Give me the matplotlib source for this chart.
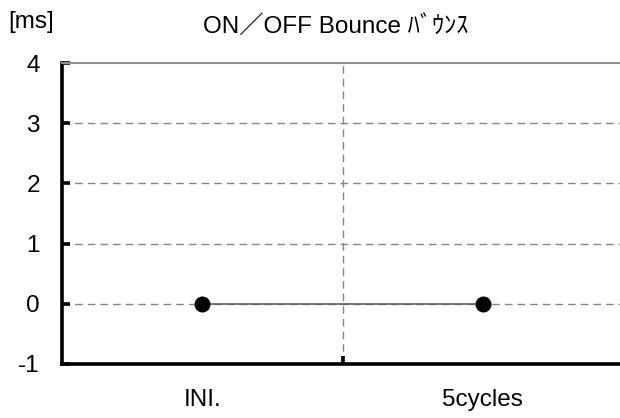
import numpy as np
import matplotlib.pyplot as plt
from matplotlib.ticker import FixedLocator

plt.rcParams['font.family'] = ['Liberation Sans', 'Noto Sans CJK JP', 'DejaVu Sans']

categories = ['INI.', '5cycles']
bounce_ms = [0, 0]
y_ticks = [-1, 0, 1, 2, 3, 4]

fig = plt.figure(figsize=(6.2, 4.18), dpi=100)
ax = fig.add_axes([62 / 620, 1 - 364 / 418, 1 - 62 / 620 + 0.005, 301 / 418])

x = np.arange(len(categories))
ax.plot(x, bounce_ms, color='#606060', lw=1.2, zorder=3)
ax.plot(x, bounce_ms, 'o', color='black', ms=10.5, zorder=4)

ax.set_xlim(-0.5, 1.5)
ax.set_ylim(-1, 4)
ax.set_yticks(y_ticks)
ax.set_yticklabels([str(v) for v in y_ticks], fontsize=17.5)
ax.set_xticks(x)
ax.set_xticklabels(categories, fontsize=17.5)
ax.xaxis.set_minor_locator(FixedLocator([0.5]))
ax.tick_params(axis='x', which='major', length=0, pad=18)
ax.tick_params(axis='x', which='minor', direction='in', length=6, width=2.6)
ax.tick_params(axis='y', direction='in', length=6, width=2.6, pad=16)

for v in [0, 1, 2, 3]:
    ax.axhline(v, color='#858585', lw=1, ls=(0, (5.5, 3.6)), zorder=1)
ax.axvline(0.5, color='#858585', lw=1, ls=(0, (5.5, 3.6)), zorder=1)

ax.spines['left'].set_linewidth(2.6)
ax.spines['bottom'].set_linewidth(2.6)
ax.spines['top'].set_color('#909090')
ax.spines['top'].set_linewidth(1.5)
ax.spines['right'].set_visible(False)

fig.text(336 / 620, 1 - 26 / 418, 'ON／OFF Bounce ﾊﾞｳﾝｽ', fontsize=17.5, ha='center', va='center')
fig.text(8 / 620, 1 - 22 / 418, '[ms]', fontsize=17.5, va='center', ha='left')

fig.savefig('out.png', dpi=100)
